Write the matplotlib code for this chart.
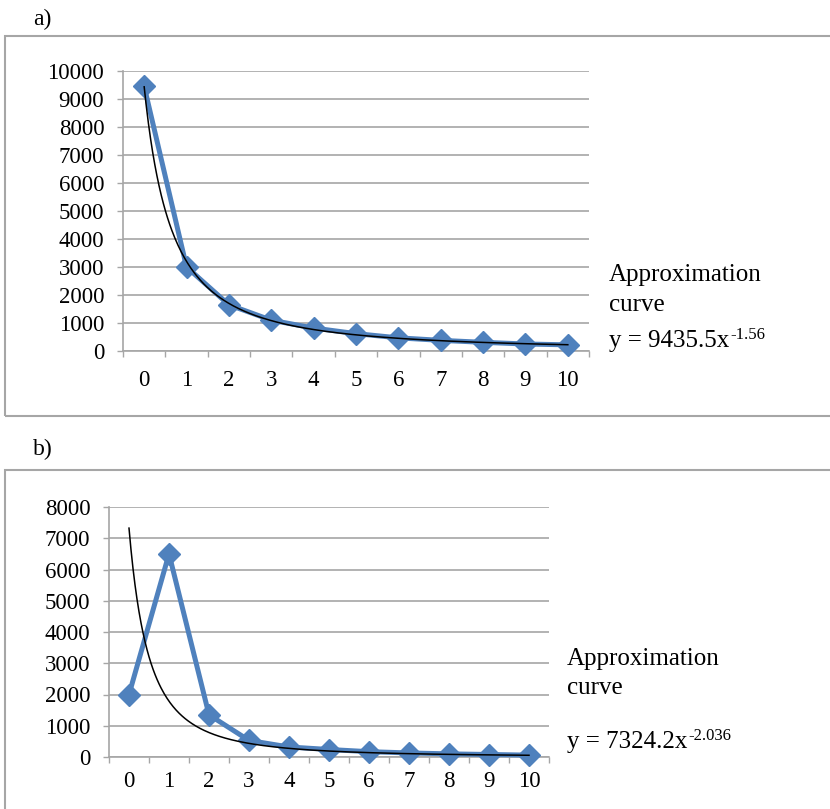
import matplotlib.pyplot as plt
from matplotlib.patches import Rectangle
import numpy as np

plt.rcParams['font.family'] = ['Liberation Serif', 'DejaVu Serif']

# data
categories = ['0', '1', '2', '3', '4', '5', '6', '7', '8', '9', '10']
values_a = [9450, 3000, 1650, 1100, 820, 620, 470, 380, 310, 250, 220]
values_b = [2000, 6500, 1350, 530, 320, 240, 170, 130, 100, 80, 60]
# power trend lines as printed on the chart: y = c * x^p (x = 1..11)
coef_a, expo_a = 9435.5, -1.56
coef_b, expo_b = 7324.2, -2.036

W, H = 830, 809
gray = '#a6a6a6'
blue = '#4f81bd'


def fx(px):
    return px / W


def fy(py):
    return 1 - py / H


fig = plt.figure(figsize=(W / 100, H / 100), dpi=100)

# outer frames
fig.patches.append(Rectangle((fx(5), fy(416)), 1.0, fy(36) - fy(416), transform=fig.transFigure,
                             fill=False, ec=gray, lw=1.5))
fig.patches.append(Rectangle((fx(5), -0.05), 1.0, fy(470) + 0.05, transform=fig.transFigure,
                             fill=False, ec=gray, lw=1.5))


def draw(ax, values, coef, expo, ymax, xpad):
    x = np.arange(len(categories))
    n = np.linspace(1, len(categories), 400)
    ax.plot(x, values, color=blue, lw=3.6, marker='D', ms=11.5, zorder=3, clip_on=False)
    ax.plot(n - 1, coef * n ** expo, color='black', lw=1.1, zorder=4, clip_on=False)
    ax.set_xlim(-0.5, len(categories) - 0.5)
    ax.set_ylim(0, ymax)
    ax.set_yticks(np.arange(0, ymax + 1, 1000))
    ax.set_xticks(x, categories)
    ax.set_xticks(np.arange(-0.5, len(categories)), minor=True)
    ax.tick_params(axis='x', which='major', length=0, pad=xpad, labelsize=16.5)
    ax.tick_params(axis='x', which='minor', length=4.5, width=1, color=gray, direction='out')
    ax.tick_params(axis='y', length=4.5, width=1, color=gray, pad=9, labelsize=16.5)
    ax.grid(axis='y', color=gray, lw=1.2, zorder=0)
    ax.set_axisbelow(True)
    for s in ['top', 'right']:
        ax.spines[s].set_visible(False)
    for s in ['left', 'bottom']:
        ax.spines[s].set_color(gray)
        ax.spines[s].set_linewidth(1.2)


ax_a = fig.add_axes([fx(123), fy(351), fx(589) - fx(123), fy(71) - fy(351)])
draw(ax_a, values_a, coef_a, expo_a, 10000, 14)

ax_b = fig.add_axes([fx(109), fy(757), fx(549) - fx(109), fy(507) - fy(757)])
draw(ax_b, values_b, coef_b, expo_b, 8000, 10)


def note(x, y1, y2, y3, coef, expo):
    fig.text(fx(x), fy(y1), 'Approximation', fontsize=18, va='baseline')
    fig.text(fx(x), fy(y2), 'curve', fontsize=18, va='baseline')
    t = fig.text(fx(x), fy(y3), 'y = %s' % coef + 'x', fontsize=18, va='baseline')
    fig.add_artist(plt.Annotation('%s' % expo, xy=(1, 1), xycoords=t, xytext=(0.5, 2),
                                  textcoords='offset points', va='top', ha='left', fontsize=12))


note(609, 281, 311, 347, coef_a, expo_a)
note(567, 665, 694, 748, coef_b, expo_b)

fig.text(fx(33), fy(25), 'a)', fontsize=17, va='baseline')
fig.text(fx(33), fy(455), 'b)', fontsize=17, va='baseline')

plt.savefig('out.png', dpi=100)
